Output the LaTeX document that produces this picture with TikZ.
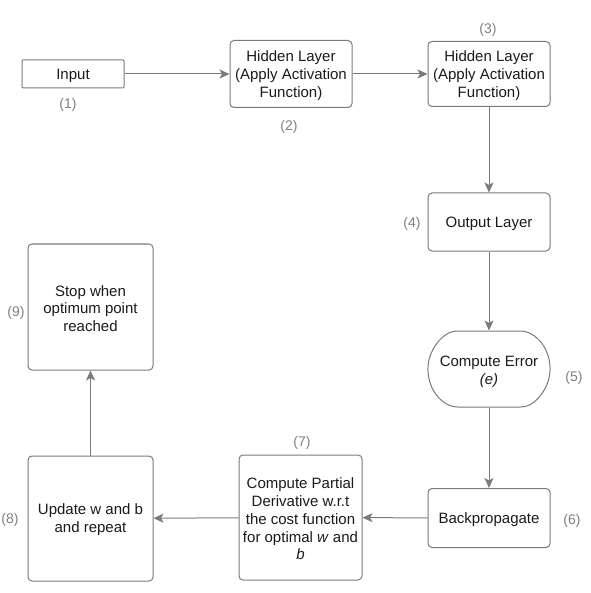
\documentclass[tikz,border=0pt]{standalone}
\usepackage{fontspec}
\setmainfont{Liberation Sans}
\usetikzlibrary{arrows.meta,shapes.misc}
\definecolor{linegray}{HTML}{7A7A7A}
\definecolor{txt}{HTML}{1A1A1A}
\definecolor{numgray}{HTML}{808080}
\tikzset{
  box/.style={draw=linegray, line width=1pt, rounded corners=4pt, inner sep=0pt},
  lbl/.style={align=center, text=txt, font=\fontsize{15}{17.8}\selectfont, inner sep=0pt},
  num/.style={text=numgray, font=\fontsize{14}{15}\selectfont, inner sep=0pt},
  conn/.style={draw=linegray, line width=1pt, -{Stealth[length=10pt,width=9pt,inset=2.5pt,fill=linegray]}},
}
\begin{document}
\begin{tikzpicture}[x=1pt,y=-1pt]
\useasboundingbox (0,0) rectangle (590,593);
\node[box, rounded corners=1pt, minimum width=102pt, minimum height=28pt] (in) at (73,74) {};
\node[box, minimum width=122pt, minimum height=67pt] (h1) at (291,74) {};
\node[box, minimum width=122pt, minimum height=65pt] (h2) at (489,74) {};
\node[box, minimum width=122pt, minimum height=58pt] (out) at (489,222) {};
\node[box, rounded rectangle, rounded rectangle arc length=135, minimum width=122pt, minimum height=76pt] (err) at (489,369) {};
\node[box, minimum width=122pt, minimum height=59pt] (bp) at (489,518) {};
\node[box, minimum width=123pt, minimum height=125pt] (cp) at (300.5,517.5) {};
\node[box, minimum width=125pt, minimum height=125pt] (up) at (90.5,518.5) {};
\node[box, minimum width=125pt, minimum height=126pt] (stop) at (90.5,307) {};
\node[lbl] (int) at ([yshift=-1.5pt]in.center) {Input};
\node[lbl] (h1t) at ([yshift=-1.5pt]h1.center) {Hidden Layer\\(Apply Activation\\Function)};
\node[lbl] (h2t) at ([yshift=-1.5pt]h2.center) {Hidden Layer\\(Apply Activation\\Function)};
\node[lbl] (outt) at ([yshift=-1.5pt]out.center) {Output Layer};
\node[lbl] (errt) at ([yshift=-2.5pt]err.center) {Compute Error\\\textit{(e)}};
\node[lbl] (bpt) at ([yshift=-1.5pt]bp.center) {Backpropagate};
\node[lbl] (cpt) at ([yshift=-1.5pt]cp.center) {Compute Partial\\Derivative w.r.t\\the cost function\\for optimal \textit{w} and\\\textit{b}};
\node[lbl] (upt) at ([yshift=-1.5pt]up.center) {Update w and b\\and repeat};
\node[lbl] (stopt) at ([yshift=-1.5pt]stop.center) {Stop when\\optimum point\\reached};
\node[num] (n1) at (68,105) {(1)};
\node[num] (n2) at (289,127) {(2)};
\node[num] (n3) at (488,30) {(3)};
\node[num] (n4) at (412,224) {(4)};
\node[num] (n5) at (574,378) {(5)};
\node[num] (n6) at (572,521) {(6)};
\node[num] (n7) at (302,443) {(7)};
\node[num] (n8) at (10,520) {(8)};
\node[num] (n9) at (16,313) {(9)};
\draw[conn] (in) -- (h1);
\draw[conn] (h1) -- (h2);
\draw[conn] (h2) -- (out);
\draw[conn] (out) -- (err);
\draw[conn] (err) -- (bp);
\draw[conn] (bp) -- (cp);
\draw[conn] (cp) -- (up);
\draw[conn] (up) -- (stop);
\end{tikzpicture}
\end{document}
